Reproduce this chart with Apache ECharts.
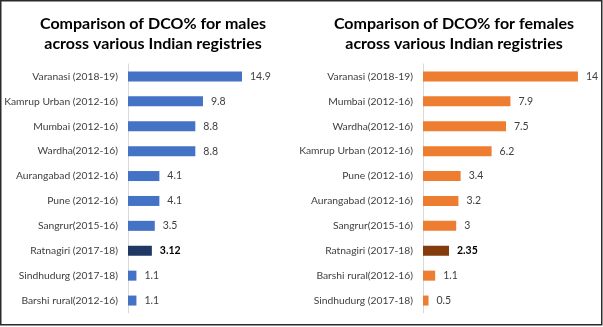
<!DOCTYPE html>
<html><head><meta charset="utf-8">
<script src="https://cdn.jsdelivr.net/npm/echarts@6/dist/echarts.min.js"></script>
<style>html,body{margin:0;padding:0;background:#fff}#c{width:603px;height:327px}</style>
</head><body><div id="c"></div>
<script>
const maleCategories = ["Varanasi (2018-19)","Kamrup Urban (2012-16)","Mumbai (2012-16)","Wardha(2012-16)","Aurangabad (2012-16)","Pune (2012-16)","Sangrur(2015-16)","Ratnagiri (2017-18)","Sindhudurg (2017-18)","Barshi rural(2012-16)"];
const maleValues = [14.9, 9.8, 8.8, 8.8, 4.1, 4.1, 3.5, 3.12, 1.1, 1.1];
const femaleCategories = ["Varanasi (2018-19)","Mumbai (2012-16)","Wardha(2012-16)","Kamrup Urban (2012-16)","Pune (2012-16)","Aurangabad (2012-16)","Sangrur(2015-16)","Ratnagiri (2017-18)","Barshi rural(2012-16)","Sindhudurg (2017-18)"];
const femaleValues = [14, 7.9, 7.5, 6.2, 3.4, 3.2, 3, 2.35, 1.1, 0.5];
const highlight = "Ratnagiri (2017-18)";
const titles = ["Comparison of DCO% for males\nacross various Indian registries","Comparison of DCO% for females\nacross various Indian registries"];

const FONT = "Lato";
function build(cats, vals, base, hi) {
  return vals.map((v, i) => {
    const isHi = cats[i] === highlight;
    return {
      value: v,
      itemStyle: { color: isHi ? hi : base },
      label: isHi ? { fontWeight: 'bold', color: '#000' } : {}
    };
  });
}
const chart = echarts.init(document.getElementById('c'), null, {renderer: 'canvas'});
const yAxisCommon = {
  type: 'category', inverse: true,
  axisTick: { show: false },
  axisLine: { lineStyle: { color: '#D9D9D9', width: 1 } },
  axisLabel: { color: '#404040', fontFamily: FONT, fontSize: 10.3, margin: 10 }
};
const xAxisCommon = { type: 'value', min: 0, show: false, splitLine: { show: false } };
const labelCommon = { show: true, position: 'right', distance: 8, color: '#404040', fontFamily: FONT, fontSize: 10.5 };
chart.setOption({
  animation: false,
  title: [
    { text: titles[0], left: 148, top: 9, textAlign: 'center',
      textStyle: { fontFamily: FONT, fontWeight: 'bold', fontSize: 16, color: '#000', lineHeight: 20 } },
    { text: titles[1], left: 449, top: 9, textAlign: 'center',
      textStyle: { fontFamily: FONT, fontWeight: 'bold', fontSize: 16, color: '#000', lineHeight: 20 } }
  ],
  graphic: [{ type: 'rect', shape: { x: 0.75, y: 0.75, width: 601, height: 324 },
    style: { fill: 'none', stroke: '#2b2b2b', lineWidth: 1.5 }, silent: true }],
  grid: [
    { left: 128, top: 64, width: 153, height: 249 },
    { left: 423, top: 64, width: 166, height: 249 }
  ],
  xAxis: [
    Object.assign({ gridIndex: 0, max: 20 }, xAxisCommon),
    Object.assign({ gridIndex: 1, max: 15 }, xAxisCommon)
  ],
  yAxis: [
    Object.assign({ gridIndex: 0, data: maleCategories }, yAxisCommon),
    Object.assign({ gridIndex: 1, data: femaleCategories }, yAxisCommon)
  ],
  series: [
    { type: 'bar', xAxisIndex: 0, yAxisIndex: 0, barWidth: 10, label: labelCommon,
      data: build(maleCategories, maleValues, '#4472C4', '#203864') },
    { type: 'bar', xAxisIndex: 1, yAxisIndex: 1, barWidth: 10, label: labelCommon,
      data: build(femaleCategories, femaleValues, '#ED7D31', '#843C0C') }
  ]
});
</script></body></html>
